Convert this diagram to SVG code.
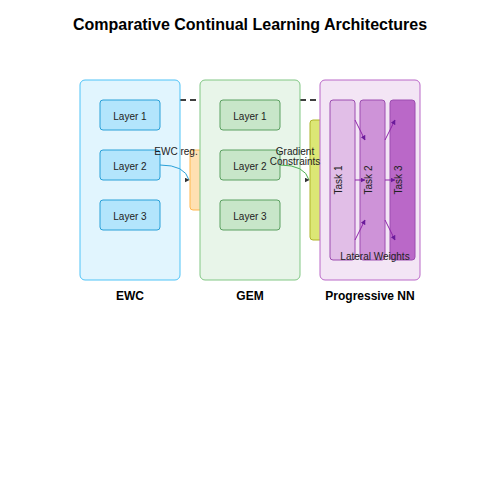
<svg xmlns="http://www.w3.org/2000/svg" width="500" height="500" viewBox="0 0 500 500">
<defs>
<marker id="ah" viewBox="0 0 10 10" refX="9" refY="5" markerWidth="5" markerHeight="5" orient="0"><path d="M0,0 L10,5 L0,10 z" fill="#333"/></marker>
<marker id="ahp" viewBox="0 0 10 10" refX="9" refY="5" markerWidth="5" markerHeight="5" orient="auto"><path d="M0,0 L10,5 L0,10 z" fill="#6a1b9a"/></marker>
<style>
text{font-family:"Liberation Sans",Arial,sans-serif;fill:#222}
.t{font-size:10px;text-anchor:middle;dominant-baseline:central}
.lbl{font-size:12px;font-weight:bold;text-anchor:middle;fill:#000}
.ewc{fill:#e1f5fe;stroke:#4fc3f7;stroke-width:1}
.ewcl{fill:#b3e5fc;stroke:#29a0d8;stroke-width:1}
.gem{fill:#e8f5e9;stroke:#81c784;stroke-width:1}
.geml{fill:#c8e6c9;stroke:#5aa060;stroke-width:1}
.pnn{fill:#f3e5f5;stroke:#ba68c8;stroke-width:1}
.task{stroke:#9c4db0;stroke-width:1}
.lat{stroke:#8e24aa;stroke-width:1;fill:none;marker-end:url(#ahp)}
</style>
</defs>
<text x="250" y="30" style="font-size:16px;font-weight:bold;text-anchor:middle;fill:#000">Comparative Continual Learning Architectures</text>
<g id="connectors-back">
<line x1="180" y1="100" x2="320" y2="100" stroke="#000" stroke-width="1.5" stroke-dasharray="6,4"/>
</g>
<g id="ewc-reg-box"><rect x="190" y="150" width="30" height="60" rx="3" fill="#ffe0b2" stroke="#ffb74d"/></g>
<g id="gem-constraint-box"><rect x="310" y="120" width="30" height="120" rx="3" fill="#dce775" stroke="#afb42b"/></g>
<g id="ewc">
<rect class="ewc" x="80" y="80" width="100" height="200" rx="5"/>
<rect class="ewcl" x="100" y="100" width="60" height="30" rx="3"/><text class="t" x="130" y="116">Layer 1</text>
<rect class="ewcl" x="100" y="150" width="60" height="30" rx="3"/><text class="t" x="130" y="166">Layer 2</text>
<rect class="ewcl" x="100" y="200" width="60" height="30" rx="3"/><text class="t" x="130" y="216">Layer 3</text>
<text class="lbl" x="130" y="300">EWC</text>
</g>
<g id="gem">
<rect class="gem" x="200" y="80" width="100" height="200" rx="5"/>
<rect class="geml" x="220" y="100" width="60" height="30" rx="3"/><text class="t" x="250" y="116">Layer 1</text>
<rect class="geml" x="220" y="150" width="60" height="30" rx="3"/><text class="t" x="250" y="166">Layer 2</text>
<rect class="geml" x="220" y="200" width="60" height="30" rx="3"/><text class="t" x="250" y="216">Layer 3</text>
<text class="lbl" x="250" y="300">GEM</text>
</g>
<g id="pnn">
<rect class="pnn" x="320" y="80" width="100" height="200" rx="5"/>
<rect class="task" x="330" y="100" width="25" height="160" rx="3" fill="#e1bee7"/>
<rect class="task" x="360" y="100" width="25" height="160" rx="3" fill="#ce93d8"/>
<rect class="task" x="390" y="100" width="25" height="160" rx="3" fill="#ba68c8"/>
<text class="t" transform="translate(338,180) rotate(-90)">Task 1</text>
<text class="t" transform="translate(368,180) rotate(-90)">Task 2</text>
<text class="t" transform="translate(398,180) rotate(-90)">Task 3</text>
<text class="t" x="375" y="256">Lateral Weights</text>
<text class="lbl" x="370" y="300">Progressive NN</text>
</g>
<g id="connectors">
<path d="M160,165 Q185,165 189,180" fill="none" stroke="#29a0d8" stroke-width="1" marker-end="url(#ah)"/>
<text class="t" x="176" y="151">EWC reg.</text>
<path d="M280,165 Q305,165 309,180" fill="none" stroke="#4caf50" stroke-width="1" marker-end="url(#ah)"/>
<text class="t" x="295" y="151">Gradient</text>
<text class="t" x="295" y="161">Constraints</text>
<line class="lat" x1="355" y1="120" x2="365" y2="140"/>
<line class="lat" x1="385" y1="140" x2="395" y2="120"/>
<line class="lat" x1="355" y1="180" x2="365" y2="180"/>
<line class="lat" x1="385" y1="180" x2="395" y2="180"/>
<line class="lat" x1="355" y1="240" x2="365" y2="220"/>
<line class="lat" x1="385" y1="220" x2="395" y2="240"/>
</g>
</svg>
